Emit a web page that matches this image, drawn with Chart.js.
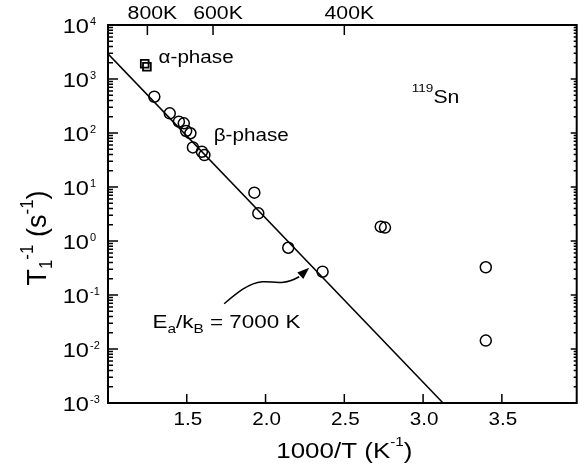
<!DOCTYPE html>
<html>
<head>
<meta charset="utf-8">
<style>
  html, body { margin: 0; padding: 0; background: #fff; overflow: hidden; }
  #wrap { width: 584px; height: 473px; }
</style>
<script src="https://cdn.jsdelivr.net/npm/chart.js@4/dist/chart.umd.min.js"></script>
</head>
<body>
<div id="wrap"><canvas id="c" width="584" height="473"></canvas></div>
<script>
// 119Sn spin-lattice relaxation rate vs inverse temperature
const betaInvT  = [1.294, 1.392, 1.450, 1.481, 1.496, 1.523, 1.539, 1.596, 1.612,
                   1.929, 1.954, 2.144, 2.362, 2.731, 2.758, 3.398, 3.398];
const betaRate  = [470, 231, 162, 151, 109, 99, 54, 45, 39,
                   7.85, 3.25, 0.75, 0.27, 1.84, 1.77, 0.326, 0.0143];
const alphaInvT = [1.233, 1.247];
const alphaRate = [1910, 1680];

// Arrhenius fit: rate = A * exp(-Ea/(kB T)), x = 1000/T
const EA_K = 7000;
const PREFACTOR = 3.2e6;
const fitInvT = [1.0, 3.3];

// axis ticks
const yTickExponents = [-3, -2, -1, 0, 1, 2, 3, 4];
const xTickValues = [1.5, 2.0, 2.5, 3.0, 3.5];
const topTempsK = [800, 600, 400];

// text annotations (data coordinates of the left end of the baseline)
const alphaLabelAt = [1.321, 2000];
const betaLabelAt  = [1.671, 72];
const isotopeLabelAt = [2.928, 365];
const eaLabelAt = [1.283, 0.024];
const arrowTipAt = [2.277, 0.32];

const FONT = '"Liberation Sans", Arial, Helvetica, sans-serif';
const SX = 1.18;

function drawRuns(ctx, runs, x, y, align, sx, sy) {
  sx = sx || 1; sy = sy || 1;
  let total = 0;
  const widths = runs.map(r => {
    ctx.font = r.size + 'px ' + FONT;
    const w = ctx.measureText(r.t).width * sx;
    total += w;
    return w;
  });
  let cx = align === 'center' ? x - total / 2 : align === 'right' ? x - total : x;
  runs.forEach((r, i) => {
    ctx.save();
    ctx.font = r.size + 'px ' + FONT;
    ctx.textAlign = 'left';
    ctx.textBaseline = 'alphabetic';
    ctx.translate(cx, y + (r.dy || 0) * sy);
    ctx.scale(sx, sy);
    ctx.fillText(r.t, 0, 0);
    ctx.restore();
    cx += widths[i];
  });
  return total;
}

const fitData = fitInvT.map(x => ({ x: x, y: PREFACTOR * Math.exp(-EA_K * x / 1000) }));

const decor = {
  id: 'decor',
  afterDatasetsDraw(chart) {
    const ctx = chart.ctx;
    const a = chart.chartArea;
    const xs = chart.scales.x, ys = chart.scales.y;
    const px = v => xs.getPixelForValue(v);
    const py = v => ys.getPixelForValue(v);
    ctx.save();
    ctx.fillStyle = '#000';
    ctx.strokeStyle = '#000';

    // frame
    ctx.lineWidth = 2;
    ctx.strokeRect(a.left, a.top, a.right - a.left, a.bottom - a.top);

    // y ticks (log, inward on both sides)
    ctx.lineWidth = 1.5;
    ctx.beginPath();
    yTickExponents.forEach(e => {
      const y = py(Math.pow(10, e));
      ctx.moveTo(a.left, y); ctx.lineTo(a.left + 10, y);
      ctx.moveTo(a.right, y); ctx.lineTo(a.right - 6, y);
      if (e < 4) {
        for (let k = 2; k <= 9; k++) {
          const ym = py(k * Math.pow(10, e));
          ctx.moveTo(a.left, ym); ctx.lineTo(a.left + 5, ym);
          ctx.moveTo(a.right, ym); ctx.lineTo(a.right - 3, ym);
        }
      }
    });
    // bottom ticks
    xTickValues.forEach(v => {
      const x = px(v);
      ctx.moveTo(x, a.bottom); ctx.lineTo(x, a.bottom - 9);
    });
    // top ticks at temperatures
    topTempsK.forEach(T => {
      const x = px(1000 / T);
      ctx.moveTo(x, a.top); ctx.lineTo(x, a.top + 10);
    });
    ctx.stroke();

    // y tick labels
    yTickExponents.forEach(e => {
      const y = py(Math.pow(10, e));
      drawRuns(ctx, [{ t: '10', size: 20 }], a.left - 19, y + 8, 'right', SX);
      drawRuns(ctx, [{ t: String(e), size: 11 }], a.left - 18, y, 'left', 1);
    });
    // bottom tick labels
    xTickValues.forEach(v => {
      drawRuns(ctx, [{ t: v.toFixed(1), size: 17.5 }], px(v) + 1, a.bottom + 22, 'center', SX);
    });
    // top labels
    topTempsK.forEach(T => {
      drawRuns(ctx, [{ t: T + 'K', size: 18 }], px(1000 / T) + 5, 19, 'center', SX);
    });

    // x title
    drawRuns(ctx, [
      { t: '1000/T (K', size: 22 },
      { t: '-1', size: 13, dy: -12 },
      { t: ')', size: 22 }
    ], (a.left + a.right) / 2 + 2, a.bottom + 55, 'center', SX);

    // y title
    ctx.save();
    ctx.translate(46, 238);
    ctx.rotate(-Math.PI / 2);
    drawRuns(ctx, [
      { t: 'T', size: 27 },
      { t: '1', size: 17, dy: 6 },
      { t: '-1', size: 17, dy: -12 },
      { t: ' (s', size: 27 },
      { t: '-1', size: 17, dy: -12 },
      { t: ')', size: 27 }
    ], 0, 0, 'center', 1, 1.05);
    ctx.restore();

    // annotations
    drawRuns(ctx, [{ t: 'α-phase', size: 17.5 }], px(alphaLabelAt[0]), py(alphaLabelAt[1]), 'left', SX);
    drawRuns(ctx, [{ t: 'β-phase', size: 17.5 }], px(betaLabelAt[0]), py(betaLabelAt[1]), 'left', SX);
    drawRuns(ctx, [
      { t: '119', size: 11.5, dy: -11 },
      { t: 'Sn', size: 18 }
    ], px(isotopeLabelAt[0]), py(isotopeLabelAt[1]), 'left', SX);
    drawRuns(ctx, [
      { t: 'E', size: 19 },
      { t: 'a', size: 13, dy: 5 },
      { t: '/k', size: 19 },
      { t: 'B', size: 13, dy: 5 },
      { t: ' = ' + EA_K + ' K', size: 19 }
    ], px(eaLabelAt[0]), py(eaLabelAt[1]), 'left', SX);

    // curved arrow pointing at the fit line
    const tx = px(arrowTipAt[0]), ty = py(arrowTipAt[1]);
    ctx.lineWidth = 1.5;
    ctx.beginPath();
    ctx.moveTo(tx - 85, ty + 36);
    ctx.bezierCurveTo(tx - 72, ty + 25, tx - 60, ty + 15, tx - 47, ty + 14);
    ctx.bezierCurveTo(tx - 36, ty + 13, tx - 28, ty + 19, tx - 10, ty + 9);
    ctx.stroke();
    const ang = Math.atan2(-9, 10);
    const L = 12, W = 4.5;
    const bx = tx - L * Math.cos(ang), by = ty - L * Math.sin(ang);
    ctx.beginPath();
    ctx.moveTo(tx, ty);
    ctx.lineTo(bx + W * Math.sin(ang), by - W * Math.cos(ang));
    ctx.lineTo(bx - W * Math.sin(ang), by + W * Math.cos(ang));
    ctx.closePath();
    ctx.fill();

    ctx.restore();
  }
};

new Chart(document.getElementById('c'), {
  type: 'scatter',
  data: {
    datasets: [
      {
        label: 'fit',
        type: 'line',
        data: fitData,
        borderColor: '#000',
        borderWidth: 1.5,
        pointRadius: 0,
        fill: false,
        tension: 0,
        clip: 0
      },
      {
        label: 'beta',
        data: betaInvT.map((x, i) => ({ x: x, y: betaRate[i] })),
        pointStyle: 'circle',
        pointRadius: 5.5,
        borderColor: '#000',
        backgroundColor: 'rgba(0,0,0,0)',
        borderWidth: 1.5
      },
      {
        label: 'alpha',
        data: alphaInvT.map((x, i) => ({ x: x, y: alphaRate[i] })),
        pointStyle: 'rect',
        pointRadius: 5.5,
        borderColor: '#000',
        backgroundColor: 'rgba(0,0,0,0)',
        borderWidth: 1.8
      }
    ]
  },
  options: {
    responsive: false,
    animation: false,
    devicePixelRatio: 1,
    layout: { padding: { left: 108, right: 1, top: 25, bottom: 70 } },
    plugins: { legend: { display: false }, tooltip: { enabled: false } },
    scales: {
      x: { type: 'linear', min: 1.0, max: 3.975, display: false },
      y: { type: 'logarithmic', min: 1e-3, max: 1e4, display: false }
    }
  },
  plugins: [decor]
});
</script>
</body>
</html>
